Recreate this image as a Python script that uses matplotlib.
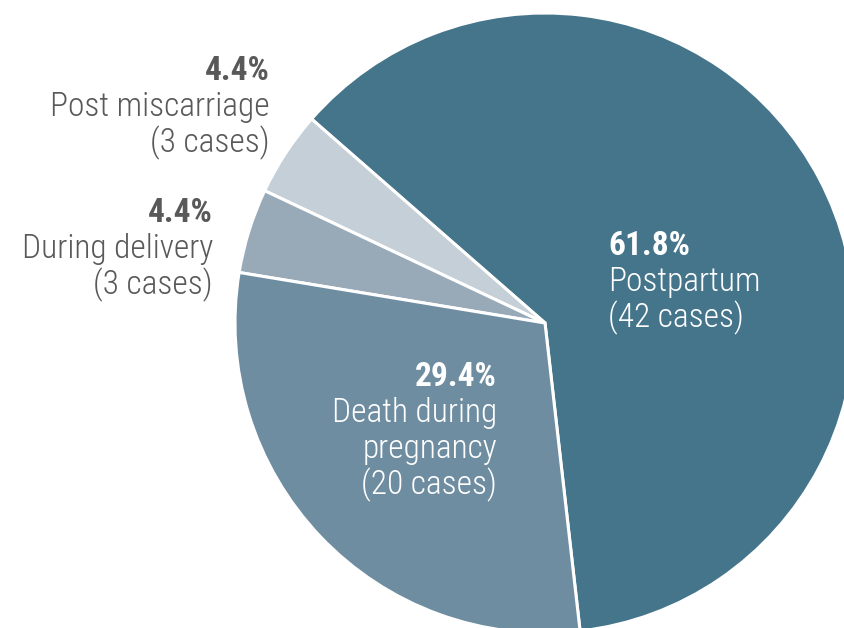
import matplotlib
matplotlib.use("Agg")
import matplotlib.pyplot as plt
from matplotlib import font_manager

# datos
categorias = ["Postpartum", "Post miscarriage", "During delivery", "Death during\npregnancy"]
casos = [42, 3, 3, 20]
colores = ["#45758b", "#c5cfd7", "#98aab8", "#6f8da1"]

total = sum(casos)
porcentajes = [100 * c / total for c in casos]

disponibles = {f.name for f in font_manager.fontManager.ttflist}
fuente = "DejaVu Sans"
for f in ["Roboto Condensed", "Liberation Sans Narrow", "Open Sans", "Lato"]:
    if f in disponibles:
        fuente = f
        break
plt.rcParams["font.family"] = [fuente, "DejaVu Sans"]

fig = plt.figure(figsize=(8.45, 6.28), dpi=100)
ax = fig.add_axes([0, 0, 1, 1])

ax.pie(casos, colors=colores, startangle=-83.5, counterclock=True,
       center=(545, -323), radius=310,
       wedgeprops={"edgecolor": "white", "linewidth": 2.2})

# el pie cambia los limites, se fijan despues
ax.set_xlim(0, 845)
ax.set_ylim(-628, 0)
ax.set_aspect("equal")
ax.axis("off")

# posiciones de las etiquetas (x, y de la primera linea, alineacion, color)
pos_etiquetas = [
    (608, -255, "left", "white"),
    (270, -80, "right", "#595959"),
    (213, -222, "right", "#595959"),
    (497, -386, "right", "white"),
]
salto = 36
tam = 24

for cat, n, p, (x, y, ha, col) in zip(categorias, casos, porcentajes, pos_etiquetas):
    ax.text(x, y, f"{p:.1f}%", ha=ha, va="baseline", fontsize=tam,
            fontweight="bold", color=col)
    lineas = cat.split("\n") + [f"({n} cases)"]
    for i, l in enumerate(lineas):
        ax.text(x, y - salto * (i + 1), l, ha=ha, va="baseline",
                fontsize=tam, fontweight="light", color=col)

fig.savefig("out.png", dpi=100)
